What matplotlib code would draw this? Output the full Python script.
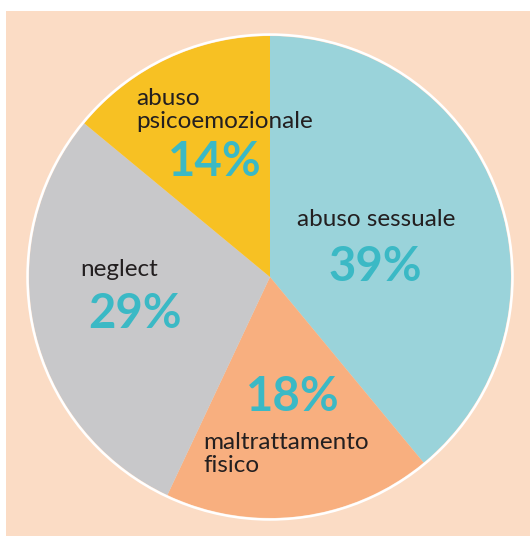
import matplotlib
matplotlib.use("Agg")
import matplotlib.pyplot as plt
from matplotlib.patches import Rectangle, Circle

categories = ["abuso sessuale", "maltrattamento\nfisico", "neglect", "abuso\npsicoemozionale"]
values = [39, 18, 29, 14]
pct_labels = ["39%", "18%", "29%", "14%"]
colors = ["#9AD3DA", "#F8AF7F", "#C8C8CA", "#F7C123"]

W, H = 530, 536
fig = plt.figure(figsize=(W / 100, H / 100), dpi=100, facecolor="white")
ax = fig.add_axes([0, 0, 1, 1])

def py(y):
    return H - y

ax.add_patch(Rectangle((6, 0), W - 6, H - 11, facecolor="#FBDCC5", edgecolor="none", zorder=0))

cx, cy, r = 270, py(277), 241
ax.pie(values, colors=colors, startangle=90, counterclock=False,
       center=(cx, cy), radius=r, frame=True,
       wedgeprops=dict(edgecolor="none", linewidth=0, zorder=1))
ax.add_patch(Circle((cx, cy), r + 1.5, facecolor="none", edgecolor="white", linewidth=1.8, zorder=2))
ax.set_xlim(0, W)
ax.set_ylim(0, H)
ax.set_aspect("auto")
ax.axis("off")

text_color = "#231F20"
teal = "#3BB9C5"
font = ["Lato", "DejaVu Sans"]

# labels: (x, y, ha)
label_pos = [(376, 220, "center"), (203, 454, "left"), (80, 270, "left"), (136, 110, "left")]
pct_pos = [(375, 267), (293, 397), (135, 314), (215, 162)]

for cat, (x, y, ha) in zip(categories, label_pos):
    ax.text(x, py(y), cat, ha=ha, va="center", fontsize=17.5, color=text_color,
            family=font, linespacing=1.15, zorder=3)
for p, (x, y) in zip(pct_labels, pct_pos):
    ax.text(x, py(y), p, ha="center", va="center", fontsize=34, color=teal,
            family=font, fontweight="bold", zorder=3)

fig.savefig("out.png", dpi=100, facecolor="white")
